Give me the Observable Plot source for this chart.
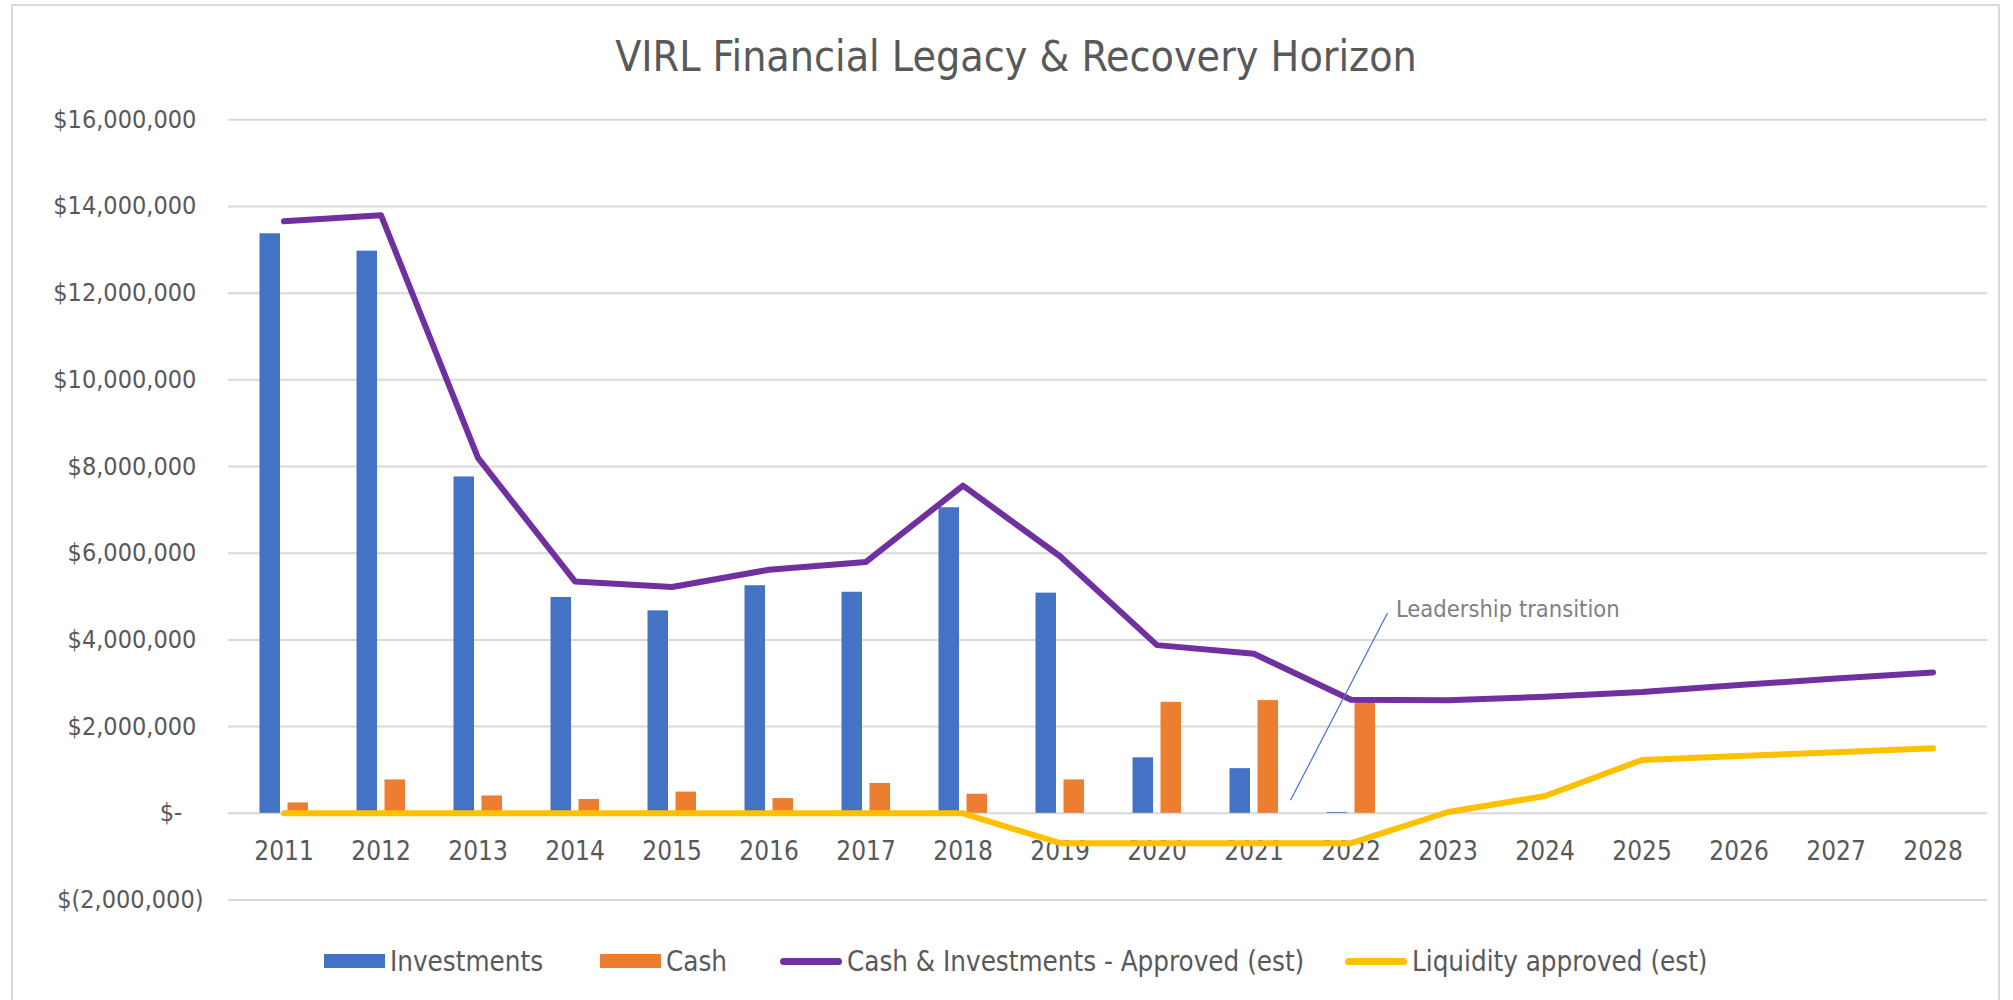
<!DOCTYPE html>
<html>
<head>
<meta charset="utf-8">
<script src="https://cdn.jsdelivr.net/npm/d3@7"></script>
<script src="https://cdn.jsdelivr.net/npm/@observablehq/plot@0.6"></script>
<style>
  html, body { margin: 0; padding: 0; background: #fff; }
  #wrap { position: relative; width: 2013px; height: 1000px; overflow: hidden;
    font-family: "DejaVu Sans Condensed", "DejaVu Sans", sans-serif; font-stretch: condensed; color: #595959; }
  #frame { position: absolute; left: 11px; top: 4px; width: 1989px; height: 1020px;
    border: 2px solid #dadada; box-sizing: border-box; }
  #title { position: absolute; left: 0; top: 36px; width: 2032px; text-align: center;
    font-size: 42.5px; line-height: 42px; color: #595959; white-space: nowrap; }
  #chart { position: absolute; left: 0; top: 80px; }
  .item { position: absolute; top: 947px; height: 28px; display: flex; align-items: center;
    font-size: 27.5px; line-height: 28px; color: #595959; white-space: nowrap; }
  .sw-bar { width: 61px; height: 14px; margin-right: 5px; }
  .sw-line { width: 62px; height: 7px; border-radius: 4px; margin-right: 5px; }
</style>
</head>
<body>
<div id="wrap">
  <div id="frame"></div>
  <div id="title">VIRL Financial Legacy &amp; Recovery Horizon</div>
  <div id="chart"></div>
  <div id="legend"></div>
</div>
<script>
// ---- data ----
const years = ["2011","2012","2013","2014","2015","2016","2017","2018","2019","2020",
               "2021","2022","2023","2024","2025","2026","2027","2028"];
const investments = [13370000, 12970000, 7760000, 4980000, 4670000, 5250000, 5100000, 7050000,
                     5080000, 1280000, 1030000, 20000, null, null, null, null, null, null];
const cash = [240000, 770000, 400000, 320000, 490000, 340000, 690000, 440000,
              770000, 2560000, 2600000, 2570000, null, null, null, null, null, null];
const cashInvApproved = [13660000, 13800000, 8200000, 5350000, 5220000, 5620000, 5800000, 7560000,
                         5930000, 3880000, 3680000, 2620000, 2610000, 2690000, 2800000, 2960000, 3110000, 3250000];
const liquidityApproved = [0, 0, 0, 0, 0, 0, 0, 0, -690000, -690000, -690000, -690000,
                           30000, 400000, 1230000, 1320000, 1410000, 1500000];
const yTicks = [-2000000, 0, 2000000, 4000000, 6000000, 8000000, 10000000, 12000000, 14000000, 16000000];
const seriesNames = ["Investments", "Cash", "Cash & Investments - Approved (est)", "Liquidity approved (est)"];
const seriesColors = ["#4472C4", "#ED7D31", "#7030A0", "#FFC000"];
const annotationText = "Leadership transition";
const annotationFrom = {year: "2021", value: 300000};
const annotationTo = {year: "2022", value: 4620000};

// ---- table built from arrays ----
const rows = years.map((y, i) => ({
  year: y, inv: investments[i], cash: cash[i],
  total: cashInvApproved[i], liq: liquidityApproved[i]
}));

const fmt = v => {
  if (v === 0) return "$-\u2007\u2008";
  const s = d3.format(",")(Math.abs(v));
  return v < 0 ? "$(" + s + ")" : "$" + s + "\u2008";
};

const font = '"DejaVu Sans Condensed", "DejaVu Sans", sans-serif';

const chart = Plot.plot({
  width: 2013,
  height: 845,
  marginTop: 39.3,
  marginBottom: 25.5,
  marginLeft: 228,
  marginRight: 26,
  style: {fontFamily: font, fontSize: "25px", color: "#595959", background: "transparent", fontStretch: "condensed"},
  x: {type: "band", domain: years, padding: 0, axis: null},
  y: {domain: [-2000000, 16000000], ticks: yTicks, tickFormat: fmt, tickSize: 0, tickPadding: 25, label: null},
  marks: [
    Plot.ruleY(yTicks, {stroke: "#d9d9d9", strokeWidth: 2}),
    Plot.axisY({ticks: yTicks, tickFormat: fmt, tickSize: 0, tickPadding: 25, label: null, fontSize: 25}),
    Plot.barY(rows, {x: "year", y: "inv", fill: seriesColors[0], insetLeft: 24.5, insetRight: 52}),
    Plot.barY(rows, {x: "year", y: "cash", fill: seriesColors[1], insetLeft: 52.5, insetRight: 24}),
    Plot.text(years, {x: d => d, y: 0, dy: 38, text: d => d, fontSize: 26, fill: "#595959"}),
    Plot.line(rows, {x: "year", y: "total", stroke: seriesColors[2], strokeWidth: 6,
      strokeLinejoin: "round", strokeLinecap: "round"}),
    Plot.line(rows, {x: "year", y: "liq", stroke: seriesColors[3], strokeWidth: 6,
      strokeLinejoin: "round", strokeLinecap: "round"}),
    Plot.link([0], {x1: () => annotationFrom.year, y1: () => annotationFrom.value,
      x2: () => annotationTo.year, y2: () => annotationTo.value,
      dx: 36.5, stroke: "#4472C4", strokeWidth: 1.2}),
    Plot.text([0], {x: () => annotationTo.year, y: () => annotationTo.value, dy: -4, dx: 45,
      text: () => annotationText, textAnchor: "start", fontSize: 23.5, fill: "#7f7f7f"})
  ]
});
document.getElementById("chart").appendChild(chart);

// ---- legend ----
const legendX = [324, 600, 780, 1345];
const legend = document.getElementById("legend");
seriesNames.forEach((name, i) => {
  const item = document.createElement("div");
  item.className = "item";
  item.style.left = legendX[i] + "px";
  const sw = document.createElement("div");
  sw.className = i < 2 ? "sw-bar" : "sw-line";
  sw.style.background = seriesColors[i];
  const t = document.createElement("span");
  t.textContent = name;
  item.appendChild(sw);
  item.appendChild(t);
  legend.appendChild(item);
});
</script>
</body>
</html>
